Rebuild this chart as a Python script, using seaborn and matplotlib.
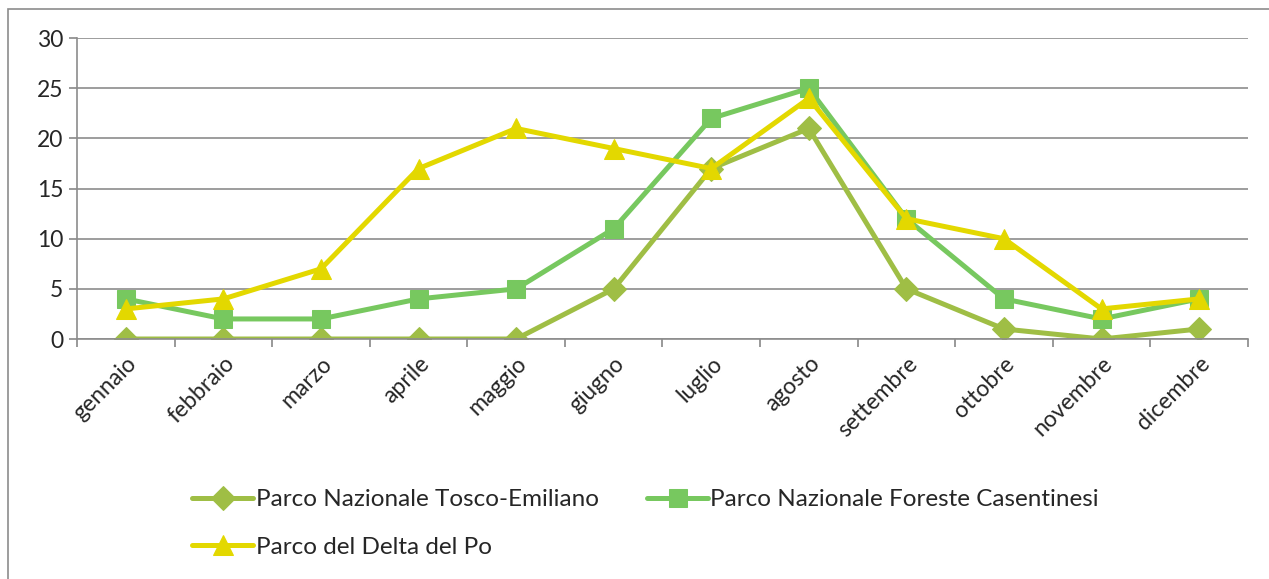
import matplotlib
matplotlib.use('Agg')
import matplotlib.pyplot as plt
import seaborn as sns
import pandas as pd
import numpy as np

months = ["gennaio", "febbraio", "marzo", "aprile", "maggio", "giugno",
          "luglio", "agosto", "settembre", "ottobre", "novembre", "dicembre"]
tosco_emiliano = [0, 0, 0, 0, 0, 5, 17, 21, 5, 1, 0, 1]
foreste_casentinesi = [4, 2, 2, 4, 5, 11, 22, 25, 12, 4, 2, 4]
delta_po = [3, 4, 7, 17, 21, 19, 17, 24, 12, 10, 3, 4]

series = [
    ("Parco Nazionale Tosco-Emiliano", tosco_emiliano, "#9FBE45", "D", 12),
    ("Parco Nazionale Foreste Casentinesi", foreste_casentinesi, "#77C85F", "s", 13),
    ("Parco del Delta del Po", delta_po, "#E3D800", "^", 14),
]

sns.set_style("white")
plt.rcParams['font.family'] = ['Lato', 'DejaVu Sans']

fig = plt.figure(figsize=(12.69, 5.79), dpi=100)
ax = fig.add_axes([0.0607, 0.4145, 0.9227, 0.5195])

x = np.arange(len(months))
for name, vals, color, marker, ms in series:
    df = pd.DataFrame({"x": x, "y": vals})
    sns.lineplot(data=df, x="x", y="y", ax=ax, color=color, linewidth=3.6,
                 marker=marker, markersize=ms, markeredgecolor=color, label=name)

ax.set_xlim(-0.5, 11.5)
ax.set_ylim(0, 30)
ax.set_yticks(range(0, 31, 5))
ax.set_xticks(x)
ax.set_xticklabels(months, rotation=45, ha="right", rotation_mode="anchor", fontsize=16.5)
ax.tick_params(axis="x", length=0, pad=10)
ax.set_xticks(np.arange(-0.5, 12, 1), minor=True)
ax.tick_params(axis="x", which="minor", length=6, width=1.2, color="#888888", direction="out", bottom=True)
ax.tick_params(axis="y", length=6, width=1.2, color="#888888", left=True, labelsize=16.5, pad=4)
ax.grid(axis="y", color="#8c8c8c", linewidth=1.2)
ax.set_axisbelow(True)
for s in ["top", "right"]:
    ax.spines[s].set_visible(False)
for s in ["left", "bottom"]:
    ax.spines[s].set_color("#8c8c8c")
    ax.spines[s].set_linewidth(1.2)
ax.set_xlabel("")
ax.set_ylabel("")

handles, labels = ax.get_legend_handles_labels()
ax.legend_.remove()
# column-major fill: tosco + delta in first column, foreste in second
order = [0, 2, 1]
fig.legend([handles[i] for i in order], [labels[i] for i in order],
           loc="upper left", bbox_to_anchor=(0.144, 0.172),
           ncol=2, frameon=False, fontsize=17.5, handlelength=2.5, handletextpad=0.1,
           columnspacing=2.0, labelspacing=1.1, borderaxespad=0)

# spreadsheet chart frame (right and bottom edges fall outside the image)
fig.add_artist(plt.Rectangle((0.0063, -0.05), 1.1, 1.0345, transform=fig.transFigure,
                             fill=False, edgecolor="#8c8c8c", linewidth=1.2))

plt.savefig("out.png", dpi=100)
plt.close()
